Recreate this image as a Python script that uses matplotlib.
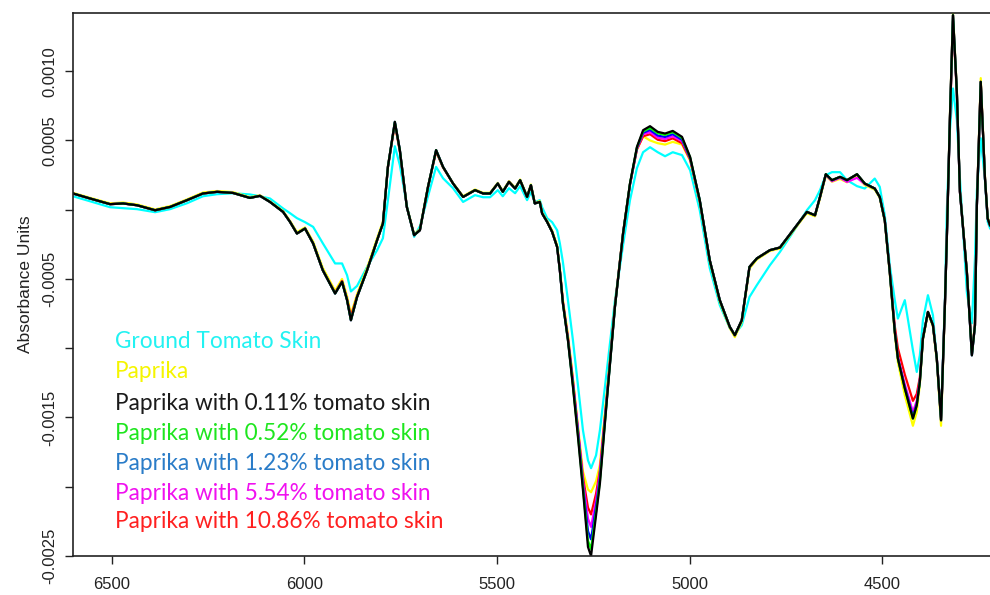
import numpy as np
import matplotlib
matplotlib.use("Agg")
import matplotlib.pyplot as plt

# wavenumber grid (cm-1)
wavenumber = [
    6600, 6556, 6504, 6470, 6434, 6387, 6348, 6304, 6263, 6226,
    6185, 6141, 6115, 6089, 6055, 6037, 6019, 5998, 5977, 5952,
    5920, 5902, 5889, 5879, 5863, 5837, 5811, 5796, 5783, 5765,
    5752, 5734, 5715, 5700, 5679, 5658, 5640, 5614, 5588, 5557,
    5536, 5518, 5498, 5485, 5469, 5453, 5440, 5422, 5412, 5402,
    5389, 5383, 5370, 5357, 5344, 5337, 5329, 5316, 5303, 5290,
    5277, 5264, 5256, 5243, 5233, 5215, 5194, 5173, 5155, 5137,
    5121, 5103, 5083, 5064, 5044, 5020, 4999, 4974, 4948, 4922,
    4896, 4883, 4865, 4845, 4826, 4792, 4766, 4732, 4696, 4675,
    4662, 4647, 4631, 4610, 4592, 4566, 4546, 4520, 4507, 4494,
    4481, 4468, 4460, 4442, 4421, 4411, 4403, 4395, 4382, 4369,
    4359, 4348, 4338, 4333, 4325, 4317, 4307, 4299, 4281, 4268,
    4260, 4255, 4245, 4234, 4227, 4221]

ABS_UNIT = 1e-4  # values below are in units of 1e-4 absorbance

ground_tomato_skin = [
    0.97, 0.61, 0.18, 0.11, 0.04, -0.18, 0.04, 0.47, 0.97, 1.12,
    1.19, 1.10, 0.97, 0.81, 0.09, -0.25, -0.61, -0.90, -1.24, -2.42,
    -3.88, -3.88, -4.73, -5.90, -5.50, -4.13, -2.92, -2.06, 0.69, 4.58,
    3.21, 0.32, -1.96, -1.19, 0.97, 3.09, 2.27, 1.55, 0.56, 1.05,
    0.90, 0.90, 1.41, 0.97, 1.55, 1.19, 1.70, 0.69, 1.26, 0.54,
    0.69, 0.18, -0.61, -0.90, -1.48, -2.42, -3.79, -6.53, -9.42, -12.67,
    -15.92, -18.09, -18.66, -17.73, -15.92, -11.59, -6.53, -2.56, 0.69, 3.00,
    4.15, 4.51, 4.15, 3.86, 4.15, 3.94, 2.85, -0.04, -4.22, -6.89,
    -8.55, -8.99, -8.34, -6.30, -5.45, -4.01, -3.05, -1.62, -0.04, 0.69,
    1.41, 2.49, 2.71, 2.71, 2.13, 1.70, 1.53, 2.25, 1.65, -0.40,
    -4.01, -6.53, -7.86, -6.53, -10.14, -11.71, -10.51, -7.98, -6.17, -7.62,
    -10.87, -14.84, -6.53, -0.04, 5.74, 8.75, 6.46, 2.25, -6.00, -8.20,
    -3.50, 1.41, 5.16, 2.13, -0.88, -1.34]

paprika = [
    1.22, 0.86, 0.46, 0.52, 0.38, 0.02, 0.26, 0.75, 1.24, 1.35,
    1.27, 0.90, 1.04, 0.60, -0.10, -0.80, -1.62, -1.28, -2.30, -4.20,
    -5.85, -5.00, -6.25, -7.55, -6.10, -4.20, -2.05, -0.85, 3.15, 6.20,
    4.25, 0.25, -1.78, -1.40, 1.70, 4.22, 3.05, 1.92, 0.98, 1.46,
    1.22, 1.22, 1.94, 1.35, 2.06, 1.58, 2.18, 0.98, 1.82, 0.50,
    0.62, -0.20, -0.80, -1.50, -2.55, -4.20, -6.50, -9.00, -12.20, -15.60,
    -18.90, -20.20, -20.40, -19.60, -18.40, -13.20, -6.85, -1.65, 1.85, 4.35,
    5.30, 5.00, 4.80, 4.70, 4.90, 4.70, 3.55, 0.55, -3.75, -6.65,
    -8.55, -9.20, -8.10, -4.25, -3.60, -2.98, -2.80, -1.55, -0.25, -0.48,
    0.82, 2.45, 2.02, 2.22, 1.98, 2.42, 1.78, 1.45, 0.85, -0.85,
    -4.65, -9.00, -11.00, -13.40, -15.60, -14.60, -12.60, -9.40, -7.45, -8.45,
    -10.90, -15.60, -7.00, -2.00, 6.80, 14.19, 8.70, 1.35, -4.40, -10.40,
    -8.20, 0.50, 9.50, 2.40, -0.55, -1.05]

paprika_011 = [
    1.17, 0.81, 0.40, 0.45, 0.32, -0.04, 0.20, 0.69, 1.17, 1.29,
    1.21, 0.85, 1.00, 0.56, -0.16, -0.88, -1.72, -1.36, -2.44, -4.37,
    -6.05, -5.21, -6.53, -7.98, -6.30, -4.37, -2.20, -1.00, 3.09, 6.34,
    4.30, 0.20, -1.84, -1.48, 1.65, 4.30, 3.09, 1.89, 0.92, 1.41,
    1.17, 1.17, 1.89, 1.29, 2.01, 1.53, 2.13, 0.92, 1.77, 0.45,
    0.56, -0.27, -0.88, -1.60, -2.69, -4.37, -6.77, -9.42, -12.79, -16.40,
    -20.25, -24.35, -25.00, -22.06, -19.77, -13.75, -7.02, -1.72, 1.89, 4.53,
    5.74, 6.03, 5.62, 5.50, 5.69, 5.26, 3.81, 0.69, -3.65, -6.53,
    -8.46, -9.06, -7.98, -4.13, -3.52, -2.92, -2.73, -1.48, -0.16, -0.40,
    0.92, 2.56, 2.13, 2.37, 2.13, 2.56, 1.89, 1.53, 0.92, -0.76,
    -4.51, -8.82, -10.74, -12.91, -15.08, -14.12, -12.43, -9.30, -7.38, -8.34,
    -10.74, -15.20, -6.90, -2.08, 6.58, 14.04, 8.51, 1.29, -4.49, -10.51,
    -8.34, 0.32, 9.23, 2.25, -0.64, -1.12]

paprika_052 = [
    1.17, 0.81, 0.40, 0.45, 0.32, -0.04, 0.20, 0.69, 1.17, 1.29,
    1.21, 0.85, 1.00, 0.56, -0.16, -0.88, -1.72, -1.36, -2.44, -4.37,
    -6.05, -5.21, -6.53, -7.98, -6.30, -4.37, -2.20, -1.00, 3.09, 6.34,
    4.30, 0.20, -1.84, -1.48, 1.65, 4.30, 3.09, 1.89, 0.92, 1.41,
    1.17, 1.17, 1.89, 1.29, 2.01, 1.53, 2.13, 0.92, 1.77, 0.45,
    0.56, -0.27, -0.88, -1.60, -2.69, -4.37, -6.77, -9.40, -12.70, -16.25,
    -20.05, -23.90, -24.50, -21.80, -19.60, -13.70, -7.02, -1.72, 1.89, 4.50,
    5.65, 5.90, 5.52, 5.40, 5.60, 5.18, 3.78, 0.69, -3.65, -6.53,
    -8.46, -9.06, -7.98, -4.13, -3.52, -2.92, -2.73, -1.48, -0.16, -0.40,
    0.92, 2.56, 2.13, 2.37, 2.13, 2.56, 1.89, 1.53, 0.92, -0.76,
    -4.51, -8.82, -10.74, -12.91, -15.08, -14.12, -12.43, -9.30, -7.38, -8.34,
    -10.74, -15.20, -6.90, -2.08, 6.58, 14.04, 8.51, 1.29, -4.49, -10.51,
    -8.34, 0.32, 9.23, 2.25, -0.64, -1.12]

paprika_123 = [
    1.17, 0.81, 0.40, 0.45, 0.32, -0.04, 0.20, 0.69, 1.17, 1.29,
    1.21, 0.85, 1.00, 0.56, -0.16, -0.88, -1.72, -1.36, -2.44, -4.37,
    -6.05, -5.21, -6.53, -7.98, -6.30, -4.37, -2.20, -1.00, 3.09, 6.34,
    4.30, 0.20, -1.84, -1.48, 1.65, 4.30, 3.09, 1.89, 0.92, 1.41,
    1.17, 1.17, 1.89, 1.29, 2.01, 1.53, 2.13, 0.92, 1.77, 0.45,
    0.56, -0.27, -0.88, -1.60, -2.69, -4.37, -6.77, -9.38, -12.60, -16.00,
    -19.85, -23.20, -23.80, -21.40, -19.35, -13.65, -7.00, -1.72, 1.85, 4.45,
    5.55, 5.75, 5.35, 5.25, 5.45, 5.05, 3.72, 0.69, -3.65, -6.53,
    -8.46, -9.06, -7.98, -4.13, -3.52, -2.92, -2.73, -1.48, -0.16, -0.40,
    0.92, 2.56, 2.13, 2.37, 2.13, 2.56, 1.89, 1.53, 0.92, -0.76,
    -4.51, -8.80, -10.70, -12.80, -14.90, -14.00, -12.40, -9.30, -7.38, -8.34,
    -10.74, -15.20, -6.90, -2.08, 6.58, 14.04, 8.51, 1.29, -4.49, -10.51,
    -8.34, 0.32, 9.23, 2.25, -0.64, -1.12]

paprika_554 = [
    1.17, 0.81, 0.40, 0.45, 0.32, -0.04, 0.20, 0.69, 1.17, 1.29,
    1.21, 0.85, 1.00, 0.56, -0.16, -0.88, -1.72, -1.36, -2.44, -4.37,
    -6.05, -5.21, -6.53, -7.98, -6.30, -4.37, -2.20, -1.00, 3.09, 6.34,
    4.30, 0.20, -1.84, -1.48, 1.65, 4.30, 3.09, 1.89, 0.92, 1.41,
    1.17, 1.17, 1.89, 1.29, 2.01, 1.53, 2.13, 0.92, 1.77, 0.45,
    0.56, -0.27, -0.88, -1.60, -2.69, -4.37, -6.70, -9.30, -12.45, -15.80,
    -19.60, -22.30, -22.90, -21.00, -19.00, -13.55, -6.98, -1.72, 1.82, 4.40,
    5.45, 5.60, 5.20, 5.10, 5.30, 4.95, 3.68, 0.66, -3.65, -6.53,
    -8.46, -9.06, -7.98, -4.13, -3.52, -2.92, -2.73, -1.48, -0.16, -0.40,
    0.92, 2.50, 2.05, 2.30, 2.00, 2.30, 1.85, 1.53, 0.92, -0.76,
    -4.51, -8.75, -10.60, -12.60, -14.60, -13.80, -12.30, -9.30, -7.38, -8.34,
    -10.74, -15.20, -6.90, -2.08, 6.58, 14.04, 8.51, 1.29, -4.49, -10.51,
    -8.34, 0.32, 9.23, 2.25, -0.64, -1.12]

paprika_1086 = [
    1.17, 0.81, 0.40, 0.45, 0.32, -0.04, 0.20, 0.69, 1.17, 1.29,
    1.21, 0.85, 1.00, 0.56, -0.16, -0.88, -1.72, -1.36, -2.44, -4.37,
    -6.00, -5.15, -6.45, -7.70, -6.25, -4.35, -2.20, -1.00, 3.05, 6.20,
    4.20, 0.20, -1.84, -1.48, 1.62, 4.20, 3.05, 1.89, 0.92, 1.41,
    1.17, 1.17, 1.89, 1.29, 2.01, 1.53, 2.13, 0.92, 1.77, 0.45,
    0.56, -0.27, -0.88, -1.60, -2.69, -4.37, -6.65, -9.20, -12.30, -15.90,
    -19.30, -21.50, -22.00, -20.50, -18.80, -13.40, -6.95, -1.72, 1.80, 4.35,
    5.30, 5.45, 5.05, 4.95, 5.15, 4.80, 3.62, 0.62, -3.65, -6.53,
    -8.46, -9.06, -7.98, -4.13, -3.52, -2.92, -2.73, -1.48, -0.16, -0.40,
    0.92, 2.56, 2.13, 2.37, 2.13, 2.56, 1.89, 1.53, 0.92, -0.76,
    -4.45, -8.40, -10.00, -11.90, -13.80, -13.30, -12.10, -9.25, -7.38, -8.34,
    -10.74, -15.00, -6.90, -2.08, 6.40, 13.60, 8.40, 1.29, -4.49, -10.30,
    -8.34, 0.32, 9.23, 2.25, -0.64, -1.12]

labels = ["Ground Tomato Skin", "Paprika", "Paprika with 0.11% tomato skin",
          "Paprika with 0.52% tomato skin", "Paprika with 1.23% tomato skin",
          "Paprika with 5.54% tomato skin", "Paprika with 10.86% tomato skin"]
series = [ground_tomato_skin, paprika, paprika_011, paprika_052,
          paprika_123, paprika_554, paprika_1086]
line_colors = ["#00FFFF", "#FFFF00", "#000000", "#00FF00", "#0000FF", "#FF00FF", "#FF0000"]
text_colors = ["#22F2F2", "#F5F500", "#1A1A1A", "#1EE61E", "#2A7CC8", "#F010F0", "#FF2020"]

x_ticks = [6500, 6000, 5500, 5000, 4500]
y_ticks = [-0.0025, -0.0020, -0.0015, -0.0010, -0.0005, 0.0, 0.0005, 0.0010]
y_tick_labels = ["-0.0025", "", "-0.0015", "", "-0.0005", "", "0.0005", "0.0010"]

W, H = 990, 595
fig = plt.figure(figsize=(W / 100, H / 100), dpi=100)
ax = fig.add_axes([73 / W, 39 / H, 917 / W, 543 / H])

wn = np.array(wavenumber, dtype=float)
draw_order = [0, 1, 6, 5, 4, 3, 2]
for i in draw_order:
    ax.plot(wn, np.array(series[i]) * ABS_UNIT, color=line_colors[i], lw=1.6,
            solid_joinstyle="round")

ax.set_xlim(6600, 4221)
ax.set_ylim(-0.0025, 0.00142)
ax.set_xticks(x_ticks)
ax.set_xticklabels([str(t) for t in x_ticks])
ax.set_yticks(y_ticks)
ax.set_yticklabels(y_tick_labels, rotation=90, va="center")
for lab in ax.get_xticklabels() + ax.get_yticklabels():
    lab.set_fontfamily("Liberation Sans")
    lab.set_fontsize(12)
    lab.set_color("#222222")
ax.tick_params(axis="both", direction="out", length=6, width=1, colors="#222222")
ax.tick_params(axis="x", pad=9)
ax.tick_params(axis="y", pad=5)
ax.spines["right"].set_visible(False)
for s in ["left", "bottom", "top"]:
    ax.spines[s].set_linewidth(1.2)
    ax.spines[s].set_color("#222222")

ax.set_ylabel("Absorbance Units", fontfamily="Liberation Sans", fontsize=12.5,
              color="#222222", labelpad=7)

legend_y_px = [342, 372, 403, 433, 463, 493, 522]
for lab, col, yp in zip(labels, text_colors, legend_y_px):
    fig.text(115 / W, 1 - yp / H, lab, color=col, fontfamily="Lato",
             fontsize=16.3, va="center", ha="left")

fig.savefig("out.png", dpi=100)
